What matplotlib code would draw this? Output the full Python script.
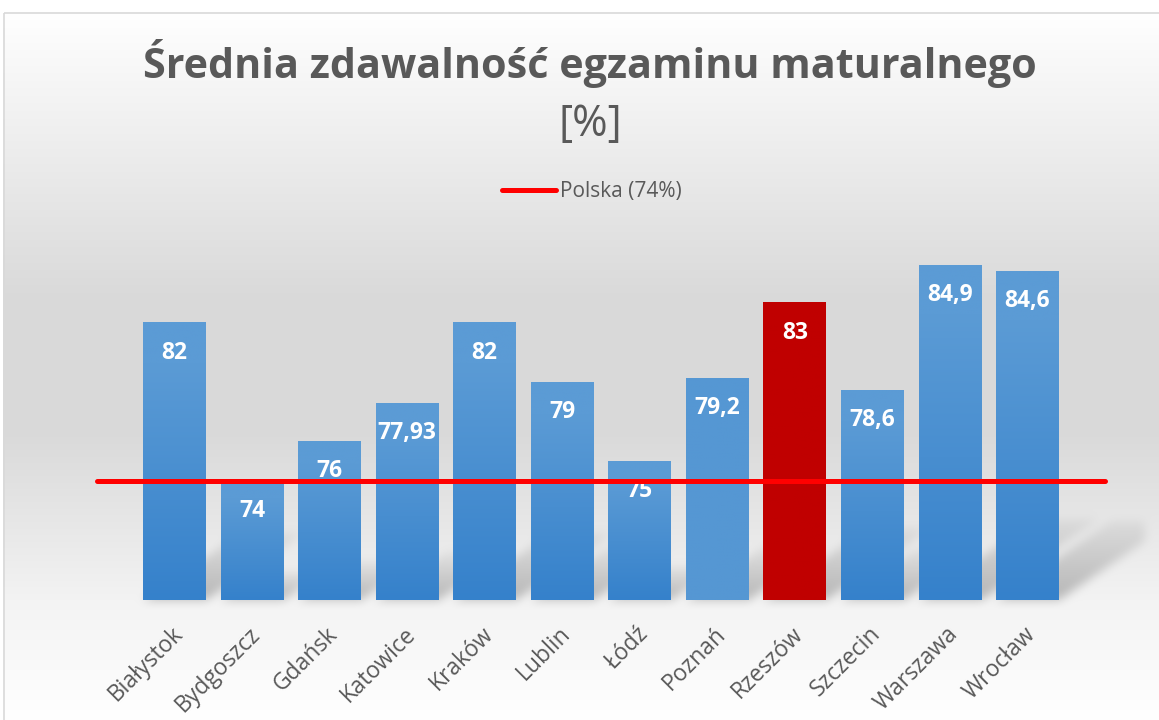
import numpy as np
import matplotlib
matplotlib.use('Agg')
import matplotlib.pyplot as plt
from matplotlib.lines import Line2D
from matplotlib.patches import Rectangle
from matplotlib.transforms import ScaledTranslation

# data
cities = ['Białystok', 'Bydgoszcz', 'Gdańsk', 'Katowice', 'Kraków', 'Lublin',
          'Łódź', 'Poznań', 'Rzeszów', 'Szczecin', 'Warszawa', 'Wrocław']
values = [82, 74, 76, 77.93, 82, 79, 75, 79.2, 83, 78.6, 84.9, 84.6]
poland = 74
poland_label = 'Polska (74%)'
highlight = 'Rzeszów'
flat_bar = 'Poznań'

title1 = 'Średnia zdawalność egzaminu maturalnego'
title2 = '[%]'

W, H = 1159, 720
ymin, ymax = 68, 88.2
gray_txt = '#595959'

plt.rcParams['font.family'] = ['Open Sans', 'DejaVu Sans']

fig = plt.figure(figsize=(W / 100, H / 100), dpi=100)
fig.patch.set_facecolor('white')

bgax = fig.add_axes([0, 0, 1, 1], zorder=0)
bgax.set_xlim(0, W)
bgax.set_ylim(H, 0)
bgax.axis('off')

ax = fig.add_axes([97 / W, 120 / H, 1008 / W, 400 / H], zorder=1)
ax.patch.set_alpha(0)
x = np.arange(len(cities))
ax.set_xlim(-1, 12)
ax.set_ylim(ymin, ymax)

# background gradient of the chart area
stops_y = [12, 300, 430, 600, 720]
stops_c = [255, 217, 217, 243, 255]
col = np.interp(np.arange(H), stops_y, stops_c) / 255.0
bg = np.repeat(col[:, None], W, axis=1)
bg[:12, :] = 1.0
bg[:, :3] = 1.0

# soft shadow cast by the bars towards the upper right
width = 0.81
mask = np.zeros((H, W))
for xi, v in zip(x, values):
    (l, b) = ax.transData.transform((xi - width / 2, ymin))
    (r, t) = ax.transData.transform((xi + width / 2, v))
    base = H - b
    h = t - b
    for row in range(int(base - 0.24 * h), int(base)):
        s = (base - row) / 0.24
        x0 = int(l + 0.35 * s)
        x1 = int(r + 0.35 * s)
        wgt = 1 - 0.8 * s / h
        mask[row, max(x0, 0):min(x1, 1145)] = np.maximum(mask[row, max(x0, 0):min(x1, 1145)], wgt)


def box_blur(a, r):
    k = 2 * r + 1
    p = np.pad(a, r, mode='edge')
    c = np.cumsum(p, axis=0)
    c = np.vstack([np.zeros((1, c.shape[1])), c])
    p = (c[k:] - c[:-k]) / k
    c = np.cumsum(p, axis=1)
    c = np.hstack([np.zeros((c.shape[0], 1)), c])
    return (c[:, k:] - c[:, :-k]) / k


mask = box_blur(box_blur(mask, 5), 5)
bg = bg * (1 - 0.25 * mask)
bgax.imshow(np.dstack([bg, bg, bg]), extent=(0, W, H, 0), aspect='auto',
            interpolation='bilinear')
bgax.add_patch(Rectangle((3.5, 12.5), W, H, fill=False, edgecolor='#d9d9d9', lw=1.2))

# bars with vertical gradient
top_c = np.array([91, 155, 213]) / 255
bot_c = np.array([53, 129, 203]) / 255
bars = ax.bar(x, values, width=width, color='none', edgecolor='none', zorder=2)
n = 200
t = np.linspace(0, 1, n)
f = np.clip((t - 0.15) / 0.85, 0, 1)[:, None]
for bar, city, v in zip(bars, cities, values):
    x0 = bar.get_x()
    x1 = x0 + bar.get_width()
    if city == highlight:
        img = np.tile(np.array([192, 0, 0]) / 255, (n, 1))
    elif city == flat_bar:
        img = np.tile(np.array([85, 151, 211]) / 255, (n, 1))
    else:
        img = top_c * (1 - f) + bot_c * f
    ax.imshow(img[:, None, :], extent=(x0, x1, ymin, v), aspect='auto',
              origin='upper', zorder=2, interpolation='bilinear')
    ax.annotate(f'{v:g}'.replace('.', ','), (bar.get_x() + bar.get_width() / 2, v),
                xytext=(0, -21.5), textcoords='offset points', ha='center', va='center',
                color='white', fontsize=16.5, fontweight='bold', zorder=3)

# national average line
line, = ax.plot([-1, 12], [poland, poland], color='#ff0000', lw=3.6,
                solid_capstyle='round', clip_on=False, zorder=4)

ax.set_xlim(-1, 12)
ax.set_ylim(ymin, ymax)
ax.set_yticks([])
ax.set_xticks(x)
ax.set_xticklabels(cities, rotation=45, ha='right', va='center', rotation_mode='anchor',
                   color=gray_txt, fontsize=16.5)
ax.tick_params(axis='x', length=0, pad=22)
shift = ScaledTranslation(5 / 100, 0, fig.dpi_scale_trans)
for lab in ax.get_xticklabels():
    lab.set_transform(lab.get_transform() + shift)
for s in ax.spines.values():
    s.set_visible(False)

fig.text(590 / W, 1 - 63 / H, title1, ha='center', va='center', fontsize=29.7,
         fontweight='bold', color=gray_txt)
fig.text(590 / W, 1 - 125 / H, title2, ha='center', va='center', fontsize=31,
         color=gray_txt)

fig.legend([Line2D([0], [0], color='#ff0000', lw=3.6, solid_capstyle='round')],
           [poland_label], loc='center', bbox_to_anchor=(592 / W, 1 - 192 / H),
           frameon=False, fontsize=15, handlelength=2.6, handletextpad=0.2,
           labelcolor=gray_txt)

fig.savefig('out.png', dpi=100)
